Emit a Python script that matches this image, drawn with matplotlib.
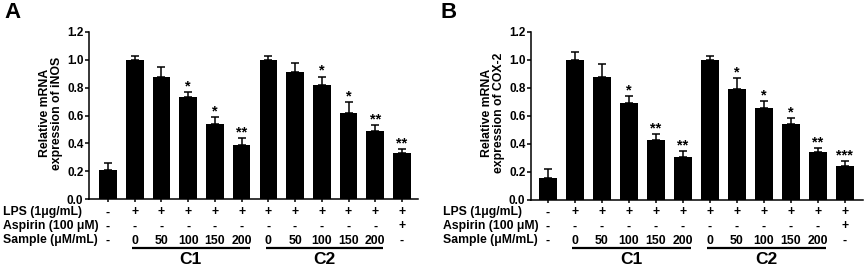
import matplotlib.pyplot as plt
import matplotlib.transforms as mtransforms
import numpy as np

plt.rcParams['font.family'] = ['Liberation Sans', 'DejaVu Sans']
plt.rcParams['font.weight'] = 'bold'

# data
inos_mean = [0.21, 1.00, 0.88, 0.73, 0.54, 0.39, 1.00, 0.91, 0.82, 0.62, 0.49, 0.33]
inos_err = [0.05, 0.03, 0.07, 0.04, 0.05, 0.045, 0.03, 0.065, 0.06, 0.08, 0.04, 0.03]
inos_sig = ['', '', '', '*', '*', '**', '', '', '*', '*', '**', '**']

cox_mean = [0.16, 1.00, 0.88, 0.69, 0.43, 0.31, 1.00, 0.79, 0.66, 0.54, 0.34, 0.24]
cox_err = [0.06, 0.06, 0.09, 0.05, 0.04, 0.04, 0.03, 0.08, 0.05, 0.045, 0.03, 0.04]
cox_sig = ['', '', '', '*', '**', '**', '', '*', '*', '*', '**', '***']

lps_row = ['-', '+', '+', '+', '+', '+', '+', '+', '+', '+', '+', '+']
aspirin_row = ['-', '-', '-', '-', '-', '-', '-', '-', '-', '-', '-', '+']
sample_row = ['-', '0', '50', '100', '150', '200', '0', '50', '100', '150', '200', '-']
row_names = ['LPS (1\u03bcg/mL)', 'Aspirin (100 \u03bcM)', 'Sample (\u03bcM/mL)']
groups = ['C1', 'C2']

W, H = 865, 271
fig = plt.figure(figsize=(W / 100, H / 100), dpi=100)


def fy(px):
    return 1 - px / H


def panel(rect, xlim, means, errs, sigs, ylabel, letter, letter_x, label_x, ylab_x):
    ax = fig.add_axes(rect)
    x = np.arange(len(means))
    ax.bar(x, means, width=0.66, color='black')
    ax.errorbar(x, means, yerr=[np.zeros(len(errs)), errs], fmt='none',
                ecolor='black', elinewidth=1.1, capsize=3, capthick=1.1)
    for xi, m, e, s in zip(x, means, errs, sigs):
        if s:
            ax.text(xi, m + e - 0.01, s, ha='center', va='bottom', fontsize=10.5,
                    fontweight='bold')
    ax.set_xlim(*xlim)
    ax.set_ylim(0, 1.2)
    ax.set_yticks(np.arange(0, 1.21, 0.2))
    ax.set_yticklabels(['%.1f' % v for v in np.arange(0, 1.21, 0.2)])
    ax.set_xticks(x)
    ax.set_xticklabels([])
    for s in ['top', 'right']:
        ax.spines[s].set_visible(False)
    for s in ['left', 'bottom']:
        ax.spines[s].set_linewidth(1.1)
    ax.tick_params(axis='y', length=3, width=1.1, labelsize=8.5, pad=1)
    ax.tick_params(axis='x', length=2.5, width=1.1)
    for t in ax.get_yticklabels():
        t.set_fontweight('bold')
    fig.text(ylab_x / W, fy(113), ylabel,
             rotation=90, ha='center', va='center', fontsize=8.8,
             fontweight='bold', linespacing=1.0)

    tr = mtransforms.blended_transform_factory(ax.transData, fig.transFigure)
    rows = [lps_row, aspirin_row, sample_row]
    ys = [212.5, 226.5, 240.5]
    for name, row, yp in zip(row_names, rows, ys):
        fig.text(label_x / W, fy(yp), name, ha='left', va='center', fontsize=8.8,
                 fontweight='bold')
        for xi, v in zip(x, row):
            ax.text(xi, fy(yp), v, transform=tr, ha='center', va='center',
                    fontsize=8.8, fontweight='bold')
    for g, start in zip(groups, [1, 6]):
        x0, x1 = start - 0.1, start + 4 + 0.3
        ax.plot([x0, x1], [fy(247.5), fy(247.5)], transform=tr, color='black',
                lw=1.6, clip_on=False, solid_capstyle='butt')
        ax.text((x0 + x1) / 2, fy(260), g, transform=tr, ha='center', va='center',
                fontsize=12.5, fontweight='bold')
    fig.text(letter_x / W, fy(12), letter, ha='left', va='center', fontsize=16,
             fontweight='bold')
    return ax


panel([89 / W, fy(199), 329 / W, (199 - 32) / H], (-0.71, 11.6),
      inos_mean, inos_err, inos_sig, 'Relative mRNA\nexpression of iNOS',
      'A', 4, 3, 51)
panel([531 / W, fy(200), 332 / W, (200 - 32) / H], (-0.63, 11.67),
      cox_mean, cox_err, cox_sig, 'Relative mRNA\nexpression of COX-2',
      'B', 441, 443, 493)

fig.savefig('out.png', dpi=100)
